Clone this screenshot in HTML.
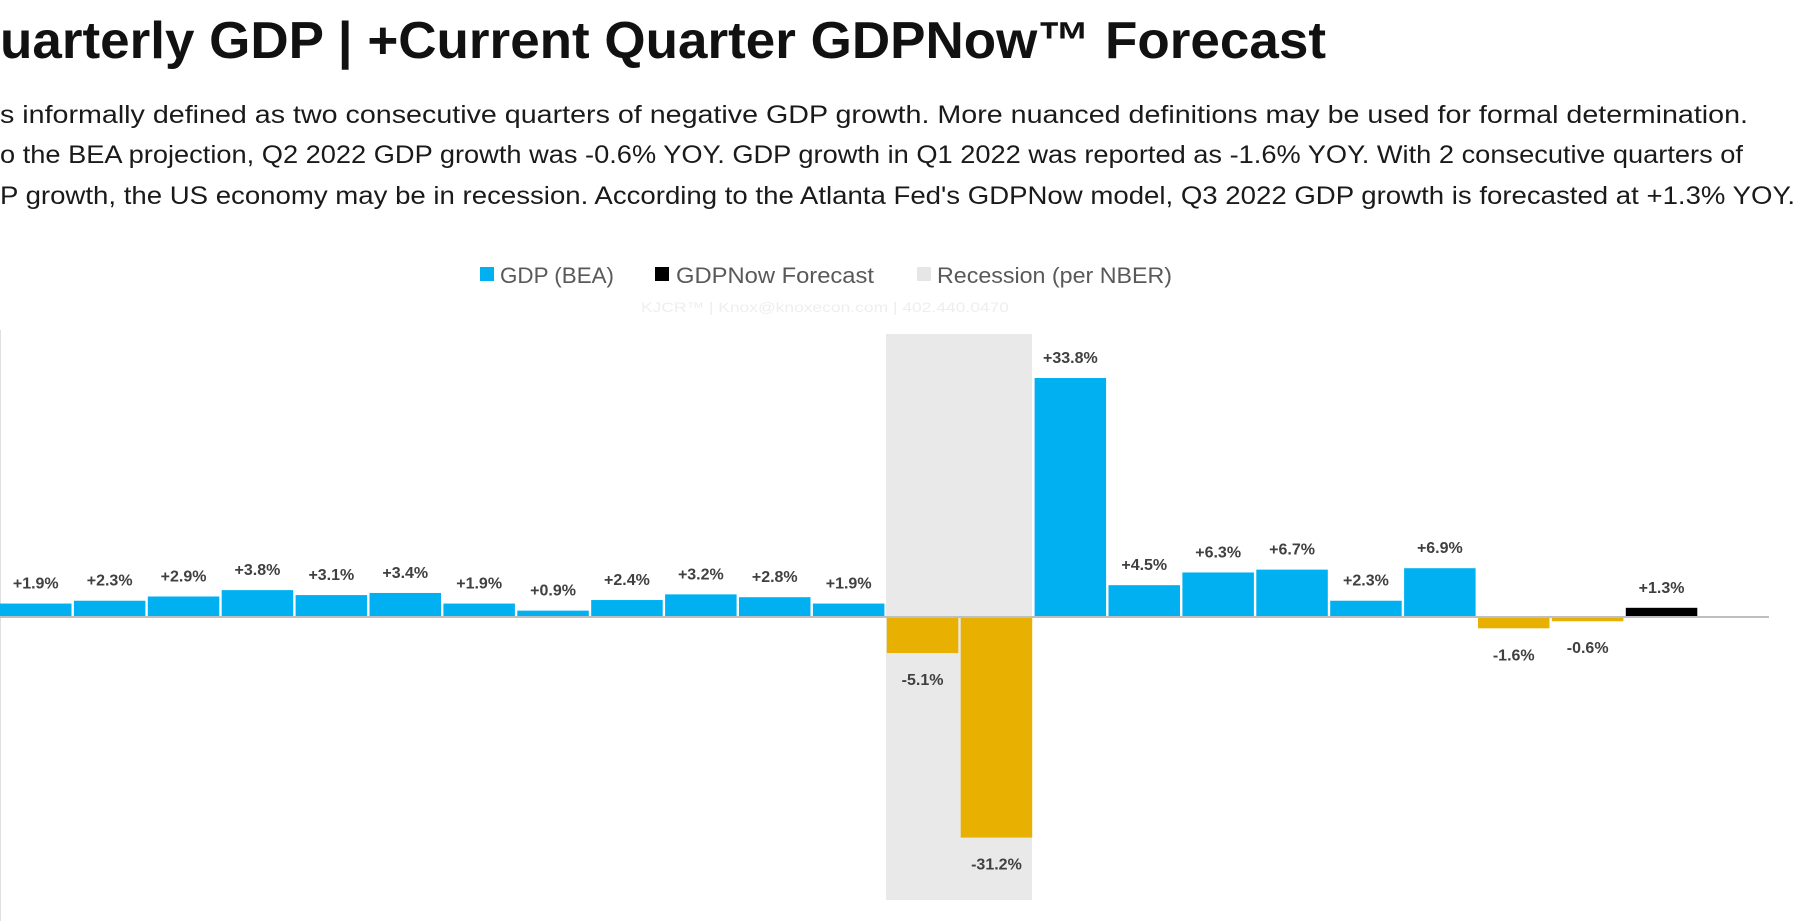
<!DOCTYPE html>
<html><head><meta charset="utf-8"><style>
html,body{margin:0;padding:0;background:#fff;overflow:hidden}
svg{display:block}
</style></head><body>
<svg id="c" width="1812" height="921" viewBox="0 0 1812 921" xmlns="http://www.w3.org/2000/svg">
<text x="0" y="58" font-family="Liberation Sans, sans-serif" font-weight="bold" font-size="52" fill="#111" textLength="1326" lengthAdjust="spacingAndGlyphs">uarterly GDP | +Current Quarter GDPNow™ Forecast</text>
<g font-family="Liberation Sans, sans-serif" font-size="25" fill="#1a1a1a">
<text x="0" y="123" textLength="1748" lengthAdjust="spacingAndGlyphs">s informally defined as two consecutive quarters of negative GDP growth.  More nuanced definitions may be used for formal determination.</text>
<text x="0" y="163" textLength="1743" lengthAdjust="spacingAndGlyphs">o the BEA projection, Q2 2022 GDP growth was -0.6% YOY.  GDP growth in Q1 2022 was reported as -1.6% YOY.  With 2 consecutive quarters of</text>
<text x="0" y="204" textLength="1795" lengthAdjust="spacingAndGlyphs">P growth, the US economy may be in recession.  According to the Atlanta Fed's GDPNow model, Q3 2022 GDP growth is forecasted at +1.3% YOY.</text>
</g>
<g font-family="Liberation Sans, sans-serif" font-size="22" fill="#595959">
<rect x="480" y="267" width="14" height="14" fill="#00b0f0"/>
<text x="500" y="283" textLength="114" lengthAdjust="spacingAndGlyphs">GDP (BEA)</text>
<rect x="655" y="267" width="14" height="14" fill="#000"/>
<text x="676" y="283" textLength="198" lengthAdjust="spacingAndGlyphs">GDPNow Forecast</text>
<rect x="917" y="267" width="14" height="14" fill="#e6e6e6"/>
<text x="937" y="283" textLength="235" lengthAdjust="spacingAndGlyphs">Recession (per NBER)</text>
</g>
<text x="641" y="312" font-family="Liberation Sans, sans-serif" font-size="14" fill="#eeeeee" textLength="368" lengthAdjust="spacingAndGlyphs">KJCR™ | Knox@knoxecon.com | 402.440.0470</text>
<rect x="886" y="334" width="146" height="566" fill="#e9e9e9"/>
<line x1="0" y1="330" x2="0" y2="921" stroke="#e0e0e0" stroke-width="2"/>
<g id="bars"></g>
<line x1="0" y1="617" x2="1769" y2="617" stroke="#bfbfbf" stroke-width="2"/>
</svg>
<script>
const values = [1.9,2.3,2.9,3.8,3.1,3.4,1.9,0.9,2.4,3.2,2.8,1.9,-5.1,-31.2,33.8,4.5,6.3,6.7,2.3,6.9,-1.6,-0.6,1.3];
const isForecast = [0,0,0,0,0,0,0,0,0,0,0,0,0,0,0,0,0,0,0,0,0,0,1];
const labels = ["+1.9%","+2.3%","+2.9%","+3.8%","+3.1%","+3.4%","+1.9%","+0.9%","+2.4%","+3.2%","+2.8%","+1.9%","-5.1%","-31.2%","+33.8%","+4.5%","+6.3%","+6.7%","+2.3%","+6.9%","-1.6%","-0.6%","+1.3%"];
const NS="http://www.w3.org/2000/svg";
const y0=617, k=7.07, slot=73.9, bw=71.5;
function yScale(v){return y0 - v*k;}
function xScale(i){return i*slot;}
const g=document.getElementById('bars');
values.forEach((v,i)=>{
  const r=document.createElementNS(NS,'rect');
  const x=xScale(i);
  const top=Math.min(yScale(v),y0), h=Math.abs(yScale(v)-y0);
  r.setAttribute('x',x);r.setAttribute('y',top);r.setAttribute('width',bw);r.setAttribute('height',h);
  r.setAttribute('fill', isForecast[i]?'#000':(v<0?'#e8b000':'#00b0f0'));
  
  
  g.appendChild(r);
  const t=document.createElementNS(NS,'text');
  t.setAttribute('x',x+bw/2);
  t.setAttribute('y', v>=0 ? yScale(v)-15 : yScale(v)+32);
  t.setAttribute('text-anchor','middle');
  t.setAttribute('font-family','Liberation Sans, sans-serif');
  t.setAttribute('font-size','16');
  t.setAttribute('font-weight','bold');
  t.setAttribute('fill','#404040');
  t.textContent=labels[i];
  
  
  g.appendChild(t);
});
</script>
</body></html>
